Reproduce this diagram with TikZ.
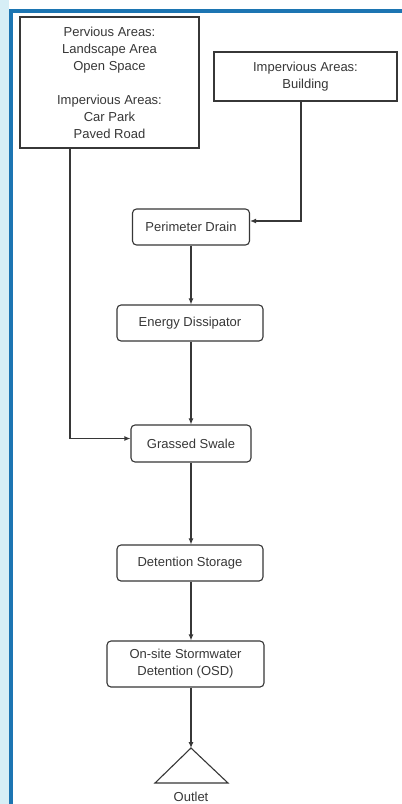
\documentclass[tikz,border=0pt]{standalone}
\usepackage{fontspec}
\setmainfont{Liberation Sans}
\usetikzlibrary{arrows.meta}
\definecolor{frameblue}{RGB}{28,117,178}
\definecolor{sideblue}{RGB}{214,238,246}
\definecolor{inkgray}{RGB}{55,55,55}
\begin{document}
\begin{tikzpicture}[x=1pt,y=-1pt,
  every node/.style={font=\fontsize{13}{17}\selectfont, text=inkgray},
  srcbox/.style={draw=inkgray, line width=1.1pt, align=center, inner sep=0pt},
  flowbox/.style={draw=inkgray, line width=1.1pt, rounded corners=4pt, align=center, inner sep=0pt},
  arr/.style={draw=inkgray, line width=1.1pt, -{Latex[length=6pt,width=5pt]}},
  ln/.style={draw=inkgray, line width=1.1pt}]
\useasboundingbox (0,0) rectangle (402,804);
\fill[white] (0,0) rectangle (402,804);
\fill[sideblue] (0,0) rectangle (9,804);
\draw[frameblue, line width=4pt] (11,820) -- (11,11) -- (420,11);
% source boxes
\node[srcbox, minimum width=179pt, minimum height=131pt] (src1) at (109.5,82.5)
  {Pervious Areas:\\Landscape Area\\Open Space\\[17pt]Impervious Areas:\\Car Park\\Paved Road};
\node[srcbox, minimum width=183pt, minimum height=49pt] (src2) at (305.5,76.5)
  {\raisebox{-3pt}{Impervious Areas:}\\\raisebox{-3pt}{Building}};
% flow boxes
\node[flowbox, minimum width=117pt, minimum height=36pt] (drain) at (191,227) {Perimeter Drain};
\node[flowbox, minimum width=146pt, minimum height=36pt] (diss) at (190,323) {Energy Dissipator};
\node[flowbox, minimum width=120pt, minimum height=37pt] (swale) at (191,443.5) {Grassed Swale};
\node[flowbox, minimum width=146pt, minimum height=36pt] (store) at (190,563) {Detention Storage};
\node[flowbox, minimum width=157pt, minimum height=46pt] (osd) at (185.5,664) {On-site Stormwater\\Detention (OSD)};
% outlet
\coordinate (outtop) at (191,748);
\coordinate (outl) at (155,783);
\coordinate (outr) at (228,783);
\draw[ln] (outtop) -- (outl) -- (outr) -- cycle;
\node (outlbl) at (191,797) {Outlet};
% connectors
\draw[arr] ([xshift=-4.5pt]src2.south) |- ([yshift=6pt]drain.east);
\draw[arr] (drain.south) -- (drain.south |- diss.north);
\draw[arr] (drain.south |- diss.south) -- (drain.south |- swale.north);
\draw[arr] ([xshift=-39.5pt]src1.south) |- ([yshift=5pt]swale.west);
\draw[arr] (drain.south |- swale.south) -- (drain.south |- store.north);
\draw[arr] (drain.south |- store.south) -- (drain.south |- osd.north);
\draw[arr] (outtop |- osd.south) -- (outtop);
\end{tikzpicture}
\end{document}
